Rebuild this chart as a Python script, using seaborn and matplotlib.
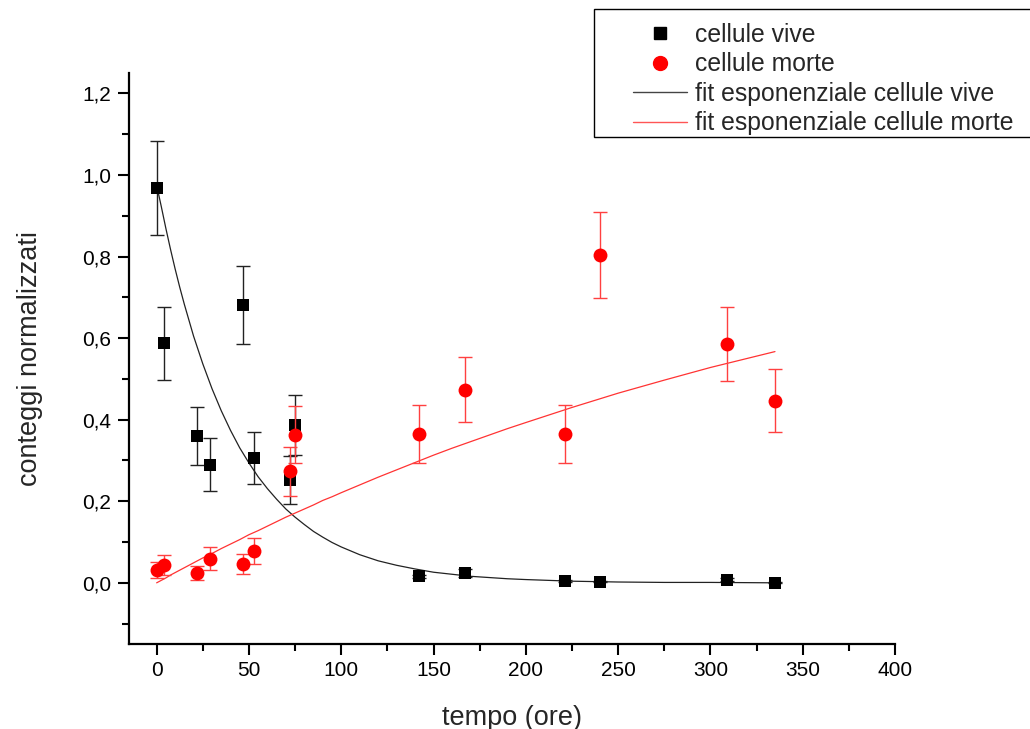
import numpy as np
import pandas as pd
import seaborn as sns
import matplotlib.pyplot as plt
from matplotlib.lines import Line2D
from matplotlib.patches import Rectangle
from matplotlib.ticker import MultipleLocator, FuncFormatter

plt.switch_backend('Agg')

# dati
tempo = [0, 4, 22, 29, 47, 53, 72, 75, 142, 167, 221, 240, 309, 335]
vive = [0.968, 0.587, 0.360, 0.290, 0.681, 0.307, 0.252, 0.387, 0.016, 0.024, 0.005, 0.003, 0.008, 0.000]
err_vive = [0.115, 0.090, 0.070, 0.065, 0.096, 0.064, 0.059, 0.073, 0.004, 0.010, 0.002, 0.002, 0.003, 0.001]
morte = [0.031, 0.044, 0.024, 0.059, 0.046, 0.078, 0.273, 0.363, 0.365, 0.474, 0.365, 0.804, 0.586, 0.447]
err_morte = [0.020, 0.024, 0.018, 0.028, 0.025, 0.032, 0.060, 0.070, 0.071, 0.080, 0.071, 0.105, 0.090, 0.078]

# curve di fit
tempo_fit = [0, 2.5, 5, 7.5, 10, 12.5, 15, 20, 25, 30, 35, 40, 45, 50, 55, 60, 65, 70, 75,
             80, 85, 90, 95, 100, 110, 120, 130, 140, 150, 160, 170, 180, 190, 200, 225,
             250, 275, 300, 335]
fit_vive = [0.975, 0.923, 0.869, 0.818, 0.770, 0.725, 0.683, 0.605, 0.537, 0.476, 0.422,
            0.374, 0.331, 0.294, 0.260, 0.231, 0.205, 0.181, 0.161, 0.143, 0.126, 0.112,
            0.099, 0.088, 0.069, 0.054, 0.043, 0.034, 0.026, 0.021, 0.016, 0.013, 0.010,
            0.008, 0.004, 0.002, 0.001, 0.001, 0.000]
fit_morte = [0.000, 0.006, 0.012, 0.019, 0.025, 0.031, 0.037, 0.049, 0.061, 0.072, 0.084,
             0.095, 0.106, 0.118, 0.128, 0.139, 0.150, 0.161, 0.171, 0.181, 0.191, 0.202,
             0.211, 0.221, 0.240, 0.259, 0.277, 0.295, 0.313, 0.330, 0.346, 0.362, 0.378,
             0.393, 0.430, 0.465, 0.497, 0.528, 0.567]

df = pd.DataFrame({'tempo': tempo, 'vive': vive, 'err_vive': err_vive,
                   'morte': morte, 'err_morte': err_morte})
df_fit = pd.DataFrame({'tempo': tempo_fit, 'vive': fit_vive, 'morte': fit_morte})

sns.set_style('ticks')
plt.rcParams['font.family'] = ['Liberation Sans', 'DejaVu Sans']

fig = plt.figure(figsize=(10.3, 7.29), dpi=100)
ax = fig.add_axes([0.1252, 0.1166, 0.7437, 0.7832])

# fit
sns.lineplot(data=df_fit, x='tempo', y='vive', color='#222222', linewidth=0.9, ax=ax, zorder=2)
sns.lineplot(data=df_fit, x='tempo', y='morte', color='#ff3333', linewidth=0.9, ax=ax, zorder=2)

# cellule vive
ax.errorbar(df['tempo'], df['vive'], yerr=df['err_vive'], fmt='none', ecolor='#222222',
            elinewidth=1, capsize=5, capthick=1, zorder=3)
sns.scatterplot(data=df, x='tempo', y='vive', marker='s', color='black', s=85,
                linewidth=0, ax=ax, zorder=4)

# cellule morte
ax.errorbar(df['tempo'], df['morte'], yerr=df['err_morte'], fmt='none', ecolor='#ff4040',
            elinewidth=1, capsize=5, capthick=1, zorder=5)
sns.scatterplot(data=df, x='tempo', y='morte', marker='o', color='red', s=100,
                linewidth=0, ax=ax, zorder=6)

ax.set_xlim(-15, 400)
ax.set_ylim(-0.15, 1.25)
ax.xaxis.set_major_locator(MultipleLocator(50))
ax.xaxis.set_minor_locator(MultipleLocator(25))
ax.yaxis.set_major_locator(MultipleLocator(0.2))
ax.yaxis.set_minor_locator(MultipleLocator(0.1))
ax.yaxis.set_major_formatter(FuncFormatter(lambda v, p: f'{v:.1f}'.replace('.', ',').replace('-0,0', '0,0')))

sns.despine(ax=ax)
for s in ['left', 'bottom']:
    ax.spines[s].set_linewidth(1.6)
    ax.spines[s].set_color('black')
ax.tick_params(which='major', direction='out', length=8, width=1.5, labelsize=15,
               colors='black')
ax.tick_params(axis='y', which='major', pad=5)
ax.tick_params(axis='x', which='major', pad=4)
ax.tick_params(which='minor', direction='out', length=4.8, width=1.5, colors='black')

ax.set_xlabel('tempo (ore)', fontsize=19.5, labelpad=18)
ax.set_ylabel('conteggi normalizzati', fontsize=19.5, labelpad=28)

# legenda (riquadro disegnato a parte, esce dal bordo destro come nell'originale)
fig.patches.append(Rectangle((594 / 1030, 1 - 137 / 729), 0.5, 128 / 729,
                             transform=fig.transFigure, facecolor='white',
                             edgecolor='black', linewidth=1))
handles = [
    Line2D([], [], linestyle='none', marker='s', color='black', markersize=8.5),
    Line2D([], [], linestyle='none', marker='o', color='red', markersize=10),
    Line2D([], [], color='#444444', linewidth=1),
    Line2D([], [], color='#ff5555', linewidth=1),
]
labels = ['cellule vive', 'cellule morte', 'fit esponenziale cellule vive',
          'fit esponenziale cellule morte']
fig.legend(handles, labels, loc='upper left', bbox_to_anchor=(633 / 1030, 1 - 23 / 729),
           bbox_transform=fig.transFigure, fontsize=17.8, frameon=False,
           handlelength=2.2, handletextpad=0.29, labelspacing=0.22,
           borderpad=0, borderaxespad=0)

fig.savefig('out.png', dpi=100)
